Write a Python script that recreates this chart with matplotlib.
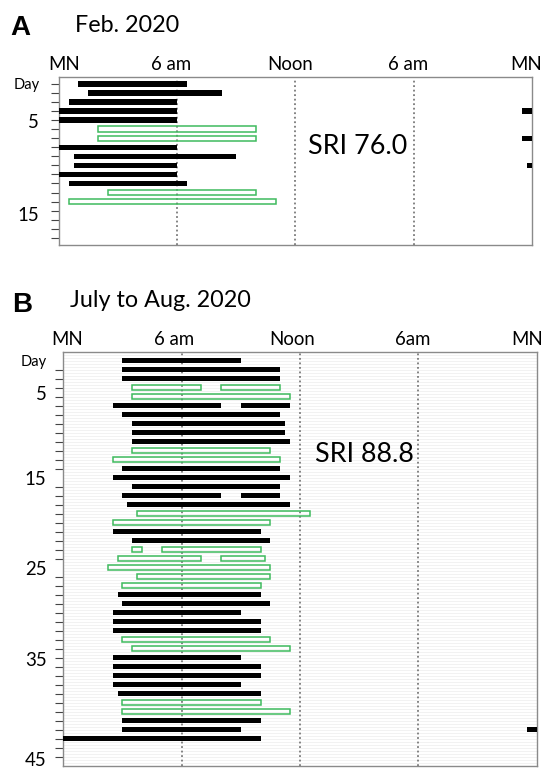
import numpy as np
import matplotlib.pyplot as plt

plt.rcParams['font.family'] = ['Lato', 'DejaVu Sans']

# Panel A: Feb. 2020 (day, start hour, end hour, kind: k = black bar, g = green outline)
a_day   = [1,   2,   3,   4, 4,    5, 6,  7,  7,    8, 9,    10,   10,    11, 12,  13,   14]
a_start = [1.0, 1.5, 0.5, 0, 23.5, 0, 2,  2,  23.5, 0, 0.75, 0.75, 23.75, 0,  0.5, 2.5,  0.5]
a_end   = [6.5, 8.3, 6.0, 6, 24,   6, 10, 10, 24,   6, 9.0,  6.0,  24,    6,  6.5, 10.0, 11.0]
a_kind  = "kkkkkkggkkkkkkkgg"

# Panel B: July to Aug. 2020
b_day   = [1, 2, 3, 4, 4, 5, 6, 6, 7, 8, 9, 10, 11, 12, 13, 14, 15, 16, 16, 17, 18, 19, 20,
           21, 22, 22, 23, 23, 24, 25, 26, 27, 28, 29, 30, 31, 32, 33, 34, 35, 36, 37, 38,
           39, 40, 41, 42, 42, 43]
b_start = [3, 3, 3, 3.5, 8, 3.5, 2.5, 9, 3, 3.5, 3.5, 3.5, 3.5, 2.5, 3, 2.5, 3.5, 3, 9, 3.25,
           3.75, 2.5, 2.5, 3.5, 3.5, 5, 2.75, 8, 2.25, 3.75, 3, 2.75, 3, 2.5, 2.5, 2.5, 3, 3.5,
           2.5, 2.5, 2.5, 2.5, 2.75, 3, 3, 3, 3, 23.5, 0]
b_end   = [9, 11, 11, 7, 11, 11.5, 8, 11.5, 11, 11.25, 11.25, 11.5, 10.5, 11, 11, 11.5, 11, 8,
           11, 11.5, 12.5, 10.5, 10, 10.5, 4, 10, 7, 10.25, 10.5, 10.5, 10, 10, 10.5, 9, 10,
           10, 10.5, 11.5, 9, 10, 10, 9, 10, 10, 11.5, 10, 9, 24, 10]
b_kind  = "kkkgggkkkkkkggkkkkkkggkkgggggggkkkkkggkkkkkggkkkk"

GREEN = '#3fba5e'
W, H = 548, 770
fig = plt.figure(figsize=(W / 100, H / 100), dpi=100)


def px_axes(l, t, r, b):
    return fig.add_axes([l / W, 1 - b / H, (r - l) / W, (b - t) / H])


def draw_panel(ax, day, start, end, kind, bar_h, nrows, ylim, top_pos, top_lab,
               ypos, ylab, ypad, stripes):
    day = np.array(day, float)
    start = np.array(start, float)
    end = np.array(end, float)
    kind = np.array(list(kind))
    k = kind == 'k'
    g = kind == 'g'
    ax.barh(day[k], end[k] - start[k], left=start[k], height=bar_h, color='black', zorder=3)
    ax.barh(day[g], end[g] - start[g], left=start[g], height=bar_h, facecolor='none',
            edgecolor=GREEN, linewidth=1.1, zorder=3)
    for h in (6, 12, 18):
        ax.axvline(h, color='#7a7a7a', ls=(0, (1, 1.5)), lw=1.3, zorder=2)
    if stripes:
        ax.hlines(np.arange(ylim[1], ylim[0], 1 / 3), 0, 24, color='#f0f0f0', lw=0.6, zorder=0)
    ax.set_xlim(0, 24)
    ax.set_ylim(*ylim)
    ax.xaxis.tick_top()
    ax.set_xticks(top_pos, top_lab)
    ax.tick_params(axis='x', length=0, pad=3, labelsize=13.4)
    ax.set_yticks(ypos, ylab)
    ax.set_yticks(np.arange(1, nrows + 1), minor=True)
    ax.tick_params(axis='y', which='major', length=0, pad=ypad, labelsize=13.4)
    ax.tick_params(axis='y', which='minor', length=6, width=0.8, color='#444444')
    for lbl in ax.get_yticklabels():
        if lbl.get_text() == 'Day':
            lbl.set_fontsize(10.5)
    for s in ax.spines.values():
        s.set_color('#8a8a8a')
        s.set_linewidth(1.0)


axA = px_axes(58.7, 76.7, 532.3, 245)
draw_panel(axA, a_day, a_start, a_end, a_kind, 0.6, 18, (18.8, 0.2),
           [0.3, 5.7, 11.75, 17.7, 23.7], ['MN', '6 am', 'Noon', '6 am', 'MN'],
           [0.9, 5.15, 15.35], ['Day', '5', '15'], 14, False)
axA.text(12.64, 7.9, 'SRI 76.0', fontsize=19.4, ha='left', va='center')

axB = px_axes(63.3, 351.7, 536.7, 765.7)
draw_panel(axB, b_day, b_start, b_end, b_kind, 0.55, 45, (46, 0),
           [0.17, 5.6, 11.6, 17.7, 23.5], ['MN', '6 am', 'Noon', '6am', 'MN'],
           [1, 4.6, 14, 24, 34.2, 45.3], ['Day', '5', '15', '25', '35', '45'], 12, True)
axB.text(12.76, 11.4, 'SRI 88.8', fontsize=19.4, ha='left', va='center')

fig.text(10 / W, 1 - 35 / H, 'A', fontsize=20, weight='bold', family='Liberation Sans',
         va='baseline')
fig.text(75 / W, 1 - 32.5 / H, 'Feb. 2020', fontsize=16.8, va='baseline')
fig.text(11.7 / W, 1 - 311.7 / H, 'B', fontsize=20, weight='bold', family='Liberation Sans',
         va='baseline')
fig.text(70 / W, 1 - 306.7 / H, 'July to Aug. 2020', fontsize=16.8, va='baseline')

fig.savefig('out.png', dpi=100)
